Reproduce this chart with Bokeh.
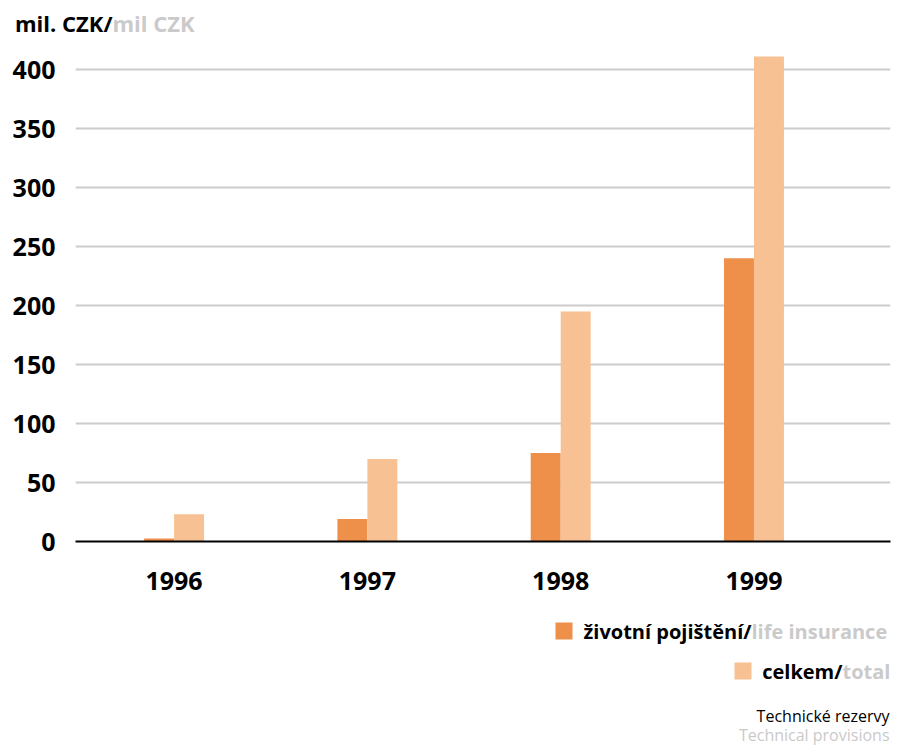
from bokeh.plotting import figure
from bokeh.layouts import column
from bokeh.models import Range1d, FixedTicker, Label, Div
from bokeh.embed import file_html
from bokeh.resources import INLINE
import numpy as np

years = [1996, 1997, 1998, 1999]
life = [2.5, 19, 75, 240]
total = [23, 70, 195, 411]
y_ticks = [0, 50, 100, 150, 200, 250, 300, 350, 400]
unit_cz, unit_en = "mil. CZK/", "mil CZK"
series_cz = ["životní pojištění/", "celkem/"]
series_en = ["life insurance", "total"]
caption_cz, caption_en = "Technické rezervy", "Technical provisions"

DARK = "#EE8F4A"
LIGHT = "#F7C193"
GRAY = "#CACACA"
FONT = "Open Sans"

W = 895
TOP_H = 45
MAIN_BOTTOM = 605
TOTAL_H = 745

# ---------------- main chart ----------------
FL, FR, FT = 75, 5, 0
FB = MAIN_BOTTOM - 541
MH = MAIN_BOTTOM - TOP_H
fh = MH - FT - FB
PXY = 1.18          # pixels per unit on y
X0 = 1995.49
PXX = 193.3         # pixels per year on x
fw = W - FL - FR
p = figure(width=W, height=MH, output_backend="svg", toolbar_location=None,
           min_border_left=FL, min_border_right=FR, min_border_top=FT, min_border_bottom=FB,
           x_range=Range1d(X0, X0 + fw / PXX), y_range=Range1d(0, fh / PXY))
p.outline_line_color = None
p.background_fill_color = "white"
p.border_fill_color = "white"

bw = 0.155
yrs = np.array(years, dtype=float)
p.vbar(x=yrs - bw / 2, top=life, width=bw, fill_color=DARK, line_color=None)
p.vbar(x=yrs + bw / 2, top=total, width=bw, fill_color=LIGHT, line_color=None)

p.xgrid.visible = False
p.ygrid.ticker = FixedTicker(ticks=y_ticks)
p.ygrid.grid_line_color = "#CCCCCC"
p.ygrid.grid_line_width = 2

for ax in (p.xaxis[0], p.yaxis[0]):
    ax.major_tick_line_color = None
    ax.minor_tick_line_color = None
    ax.major_tick_in = 0
    ax.major_tick_out = 0
    ax.major_label_text_font = FONT
    ax.major_label_text_font_style = "bold"
    ax.major_label_text_color = "black"
    ax.major_label_text_font_size = "25px"

p.yaxis.ticker = FixedTicker(ticks=y_ticks)
p.yaxis.axis_line_color = None
p.yaxis.major_label_standoff = 20
p.xaxis.ticker = FixedTicker(ticks=years)
p.xaxis.axis_line_color = "black"
p.xaxis.axis_line_width = 2
p.xaxis.major_label_standoff = 30

# ---------------- top (unit label) ----------------
top_html = (
    '<div style="position:relative;width:895px;height:45px;">'
    '<span style="position:absolute;left:15px;top:8px;font-family:\'Open Sans\';'
    'font-weight:bold;font-size:22px;line-height:30px;white-space:nowrap;color:black">'
    f'{unit_cz}<span style="color:{GRAY}">{unit_en}</span></span></div>'
)
t = Div(text=top_html, width=W, height=TOP_H, margin=0)

# ---------------- bottom (legend + caption) ----------------
BH = TOTAL_H - MAIN_BOTTOM
b = figure(width=W, height=BH, output_backend="svg", toolbar_location=None,
           x_axis_type=None, y_axis_type=None,
           min_border_left=FL, min_border_right=FR, min_border_top=0, min_border_bottom=0,
           x_range=Range1d(FL, W - FR), y_range=Range1d(0, BH))
b.outline_line_color = None
b.xgrid.visible = False
b.ygrid.visible = False
b.background_fill_color = "white"
b.border_fill_color = "white"
BT = TOTAL_H  # page y of the bottom figure's bottom edge


def lab(px, py, text, color, style, size, align):
    b.add_layout(Label(x=px, y=BT - py,
                       text=text, text_color=color, text_font=FONT, text_font_style=style,
                       text_font_size=size, text_align=align, text_baseline="middle"))


lab(751, 631, series_cz[0], "black", "bold", "20px", "right")
lab(751, 631, series_en[0], GRAY, "bold", "20px", "left")
lab(842, 671, series_cz[1], "black", "bold", "20px", "right")
lab(842, 671, series_en[1], GRAY, "bold", "20px", "left")
lab(889, 715, caption_cz, "black", "normal", "16px", "right")
lab(889, 734, caption_en, GRAY, "normal", "16px", "right")

sw_left = [555, 734]
sw_top = [622, 662]
sw_col = [DARK, LIGHT]
b.quad(left=sw_left, right=[v + 17 for v in sw_left],
       top=[BT - v for v in sw_top], bottom=[BT - v - 17 for v in sw_top],
       fill_color=sw_col, line_color=None)

layout = column(t, p, b, spacing=0)
open("out.html", "w").write(file_html(layout, INLINE))
